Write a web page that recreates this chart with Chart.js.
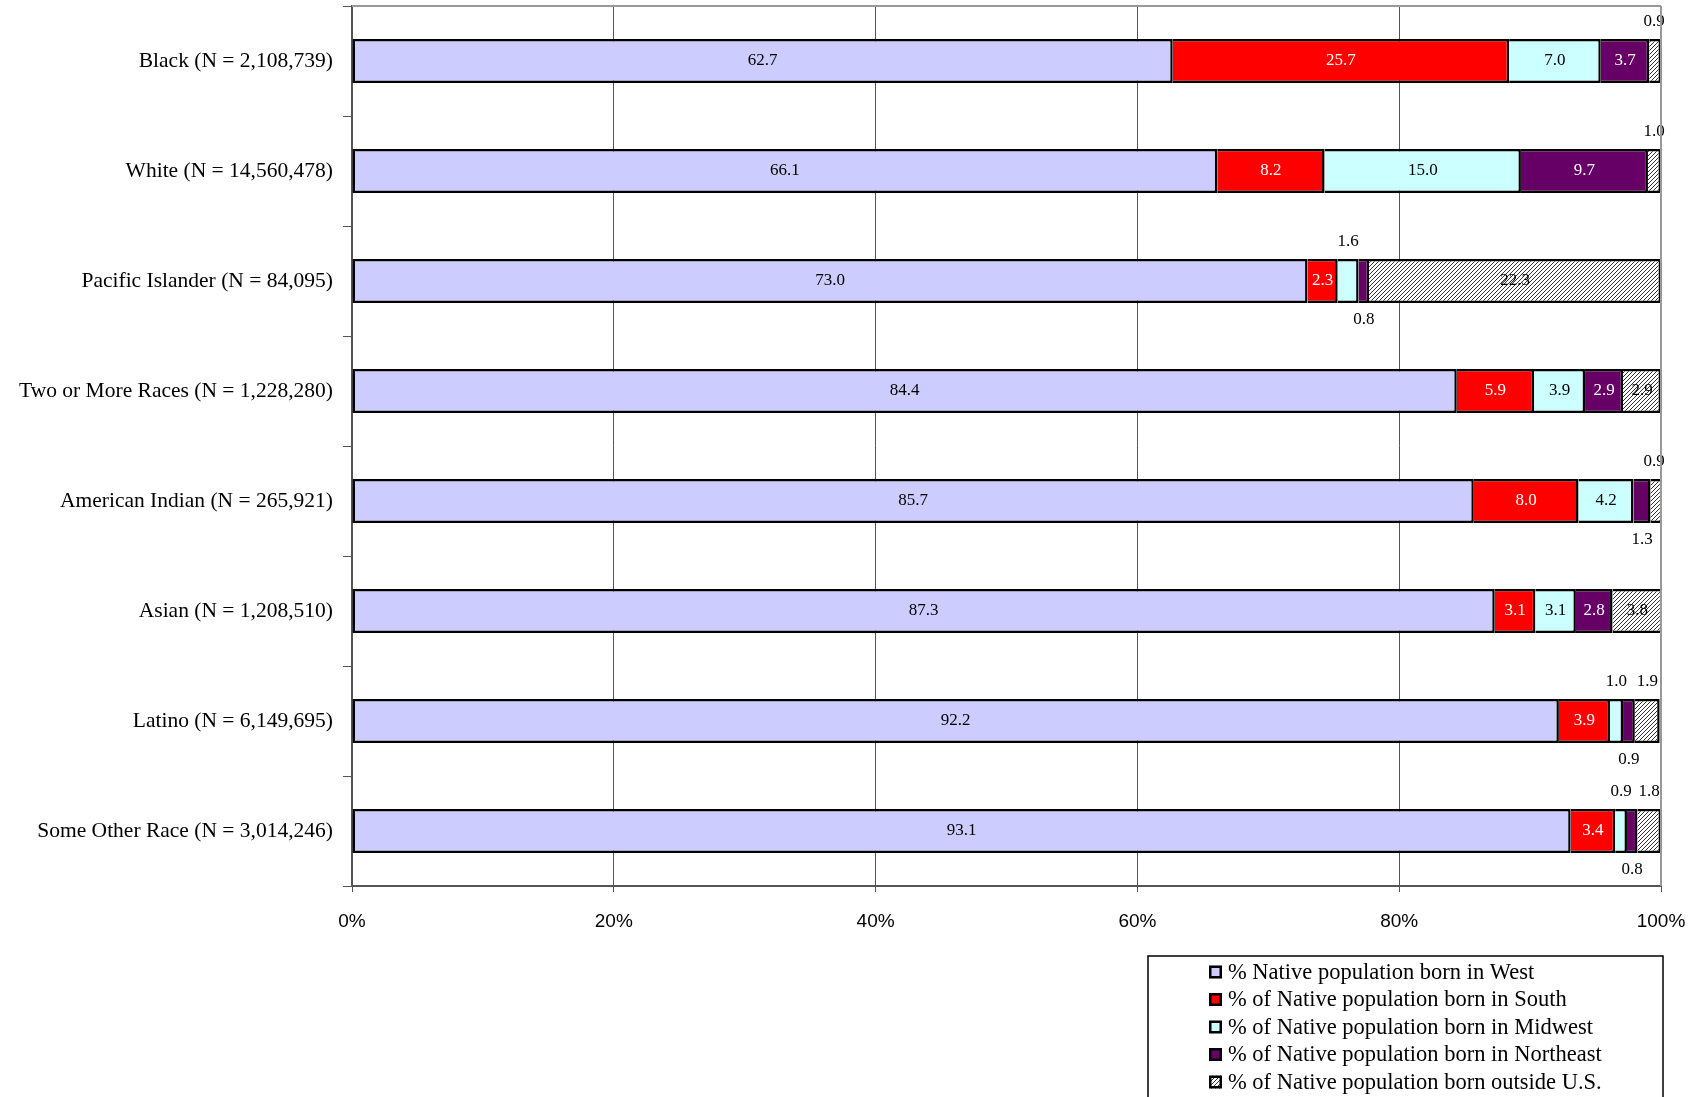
<!DOCTYPE html>
<html>
<head>
<meta charset="utf-8">
<script src="https://cdn.jsdelivr.net/npm/chart.js@4.4.1/dist/chart.umd.min.js"></script>
<style>
  body { margin: 0; background: #fff; }
  #wrap { width: 1700px; height: 1097px; }
</style>
</head>
<body>
<div id="wrap"><canvas id="myChart" width="1700" height="1097"></canvas></div>
<script>
let categories = [
  "Black (N = 2,108,739)",
  "White (N = 14,560,478)",
  "Pacific Islander (N = 84,095)",
  "Two or More Races (N = 1,228,280)",
  "American Indian (N = 265,921)",
  "Asian (N = 1,208,510)",
  "Latino (N = 6,149,695)",
  "Some Other Race (N = 3,014,246)"
];
let seriesNames = [
  "% Native population born in West",
  "% of Native population born in South",
  "% of Native population born in Midwest",
  "% of Native population born in Northeast",
  "% of Native population born outside U.S."
];
let bornWest      = [62.7, 66.1, 73.0, 84.4, 85.7, 87.3, 92.2, 93.1];
let bornSouth     = [25.7,  8.2,  2.3,  5.9,  8.0,  3.1,  3.9,  3.4];
let bornMidwest   = [ 7.0, 15.0,  1.6,  3.9,  4.2,  3.1,  1.0,  0.9];
let bornNortheast = [ 3.7,  9.7,  0.8,  2.9,  1.3,  2.8,  0.9,  0.8];
let bornOutside   = [ 0.9,  1.0, 22.3,  2.9,  0.9,  3.8,  1.9,  1.8];
let xTicks = [0, 20, 40, 60, 80, 100];

let serif = "'Liberation Serif', 'DejaVu Serif', serif";
let sans = "'Liberation Sans', 'DejaVu Sans', sans-serif";

function makeHatch()
{
  let c = document.createElement('canvas');
  c.width = 4;
  c.height = 4;
  let g = c.getContext('2d');
  g.fillStyle = '#ffffff';
  g.fillRect(0, 0, 4, 4);
  g.strokeStyle = '#333333';
  g.lineWidth = 1;
  g.beginPath();
  g.moveTo(0, 4); g.lineTo(4, 0);
  g.moveTo(-1, 1); g.lineTo(1, -1);
  g.moveTo(3, 5); g.lineTo(5, 3);
  g.stroke();
  return g.createPattern(c, 'repeat');
}

let fills = ["#ccccff", "#ff0000", "#ccffff", "#660066", makeHatch()];
let labelColors = ["#000000", "#ffffff", "#000000", "#ffffff", "#000000"];
let allSeries = [bornWest, bornSouth, bornMidwest, bornNortheast, bornOutside];

// value labels: inside the segment, or above/below when the segment is too thin
const valueLabels = {
  id: 'valueLabels',
  afterDatasetsDraw(chart) {
    let ctx = chart.ctx;
    let right = chart.chartArea.right;
    ctx.save();
    ctx.font = "17px " + serif;
    ctx.textAlign = 'center';
    ctx.textBaseline = 'middle';
    chart.data.datasets.forEach(function(ds, di) {
      let meta = chart.getDatasetMeta(di);
      meta.data.forEach(function(bar, i) {
        let v = ds.data[i];
        let txt = v.toFixed(1);
        let cx = (bar.x + bar.base) / 2;
        let top = bar.y - bar.height / 2;
        let bottom = bar.y + bar.height / 2;
        if (v >= 2) {
          ctx.fillStyle = labelColors[di];
          ctx.fillText(txt, cx, bar.y);
        } else if (di === 3) {
          ctx.fillStyle = '#000';
          ctx.fillText(txt, cx, bottom + 17);
        } else {
          ctx.fillStyle = '#000';
          ctx.fillText(txt, Math.min(cx, right - 7), top - 17);
        }
      });
    });
    ctx.restore();
  }
};

// frame lines and the boxed legend under the plot
const frameAndLegend = {
  id: 'frameAndLegend',
  afterDraw(chart) {
    let ctx = chart.ctx;
    let a = chart.chartArea;
    ctx.save();
    ctx.strokeStyle = '#999999';
    ctx.lineWidth = 2;
    ctx.beginPath();
    ctx.moveTo(a.left, a.top);
    ctx.lineTo(a.right, a.top);
    ctx.moveTo(a.right, a.top);
    ctx.lineTo(a.right, a.bottom);
    ctx.stroke();

    let boxLeft = 1148, boxTop = a.bottom + 70, boxRight = a.right + 2;
    ctx.strokeStyle = '#000';
    ctx.lineWidth = 1.5;
    ctx.strokeRect(boxLeft, boxTop, boxRight - boxLeft, 200);

    ctx.font = "22.5px " + serif;
    ctx.textAlign = 'left';
    ctx.textBaseline = 'middle';
    chart.data.datasets.forEach(function(ds, di) {
      let y = boxTop + 16 + di * 27.5;
      ctx.fillStyle = ds.backgroundColor;
      ctx.fillRect(1209, y - 6.5, 13, 13);
      ctx.strokeStyle = '#000';
      ctx.lineWidth = 2.5;
      ctx.strokeRect(1210.25, y - 5.25, 10.5, 10.5);
      ctx.fillStyle = '#000';
      ctx.fillText(ds.label, 1228, y + 1);
    });
    ctx.restore();
  }
};

let datasets = allSeries.map(function(vals, k) {
  return {
    label: seriesNames[k],
    data: vals,
    backgroundColor: fills[k],
    borderColor: '#000000',
    borderWidth: 2.5,
    borderSkipped: k === 0 ? false : 'start',
    barPercentage: 0.4,
    categoryPercentage: 1.0
  };
});

new Chart("myChart", {
  type: "bar",
  data: {
    labels: categories,
    datasets: datasets
  },
  options: {
    indexAxis: 'y',
    responsive: false,
    animation: false,
    devicePixelRatio: 1,
    layout: { padding: { left: 0, top: 6, right: 39, bottom: 161 } },
    plugins: {
      legend: { display: false },
      tooltip: { enabled: false }
    },
    scales: {
      x: {
        stacked: true,
        min: 0,
        max: 100,
        afterBuildTicks: function(scale) {
          scale.ticks = xTicks.map(function(v) { return { value: v }; });
        },
        afterFit: function(scale) {
          scale.height = 50;
          scale.paddingLeft = 0;
          scale.paddingRight = 0;
        },
        ticks: {
          color: '#000',
          font: { family: sans, size: 19 },
          padding: 18,
          maxRotation: 0,
          callback: function(v) { return v + '%'; }
        },
        grid: { color: '#555555', lineWidth: 1, tickLength: 6 },
        border: { color: '#555555', width: 2 }
      },
      y: {
        stacked: true,
        afterFit: function(scale) {
          scale.width = 352;
          scale.paddingTop = 0;
          scale.paddingBottom = 0;
        },
        ticks: {
          color: '#000',
          font: { family: serif, size: 21.5 },
          padding: 10
        },
        grid: { drawOnChartArea: false, color: '#555555', tickLength: 9, offset: true },
        border: { color: '#555555', width: 2 }
      }
    }
  },
  plugins: [valueLabels, frameAndLegend]
});
</script>
</body>
</html>
